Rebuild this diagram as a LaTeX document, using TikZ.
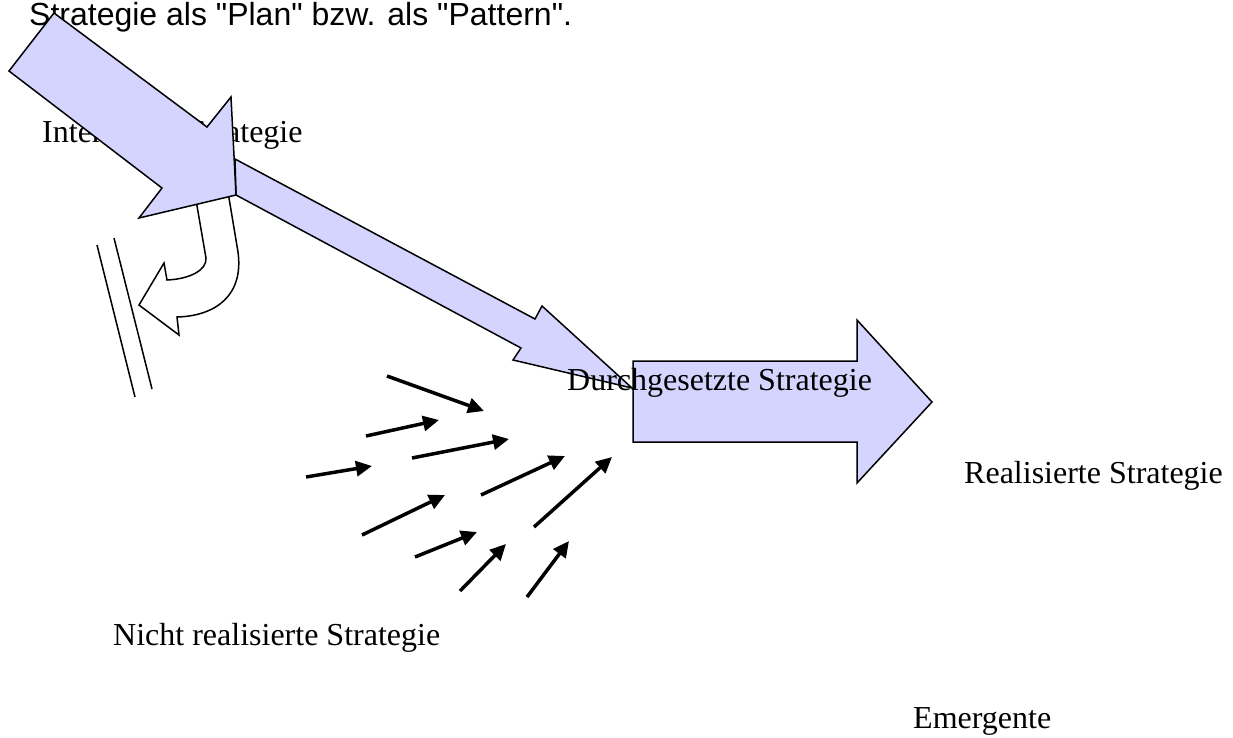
\documentclass[tikz,border=0pt]{standalone}
\usepackage{fontspec}
\setmainfont{Liberation Serif}
\newfontfamily\headfont[Ligatures=TeXOff]{Liberation Sans}
\usetikzlibrary{arrows.meta}
\definecolor{lavender}{RGB}{212,212,255}
\tikzset{
  lbl/.style={anchor=base west,inner sep=0pt,font=\fontsize{32}{38}\selectfont},
  blockarrow/.style={draw=black,fill=lavender,line width=1.5pt,line join=miter},
  bentarrow/.style={draw=black,fill=white,line width=1.5pt},
  emerg/.style={line width=3.5pt,-{Triangle[length=16pt,width=15pt]}},
}
\begin{document}
\begin{tikzpicture}[x=1pt,y=-1pt]
\useasboundingbox (0,0) rectangle (1233,737);
\node[lbl,font=\headfont\fontsize{32}{38}\selectfont] (T) at (29,25) {Strategie als "Plan" bzw. als "Pattern".};
\node[lbl] (IS) at (42,142) {Intendierte Strategie};
\path[bentarrow] (228,192) -- (238,252) .. controls (244,296) and (215,316) .. (177,317) -- (179,335) -- (139,305) -- (164,263) -- (167,280) .. controls (190,279) and (207,270) .. (206,258) -- (196,200) -- cycle;
\path[blockarrow] (235,159) -- (535,319) -- (542,306) -- (632,388) -- (513,360) -- (521,348) -- (236,195) -- cycle;
\path[blockarrow] (54,13) -- (207,127) -- (231,97) -- (236,195) -- (139,218) -- (162,188) -- (9,71) -- cycle;
\draw[line width=1.5pt] (97,245) -- (135,397);
\draw[line width=1.5pt] (114,238) -- (152,389);
\foreach \xa/\ya/\xb/\yb in {387/376/484/411, 366/436/439/420, 412/458/509/439, 306/477/372/466, 481/495/565/456, 362/535/445/495, 534/527/612/457, 415/557/477/532, 460/591/506/544, 527/597/569/541}
  \draw[emerg] (\xa,\ya) -- (\xb,\yb);
\path[blockarrow] (633,361) -- (857,361) -- (857,320) -- (932,402) -- (857,483) -- (857,442) -- (633,442) -- cycle;
\node[lbl] (DS) at (567,390) {Durchgesetzte Strategie};
\node[lbl] (RS) at (964,483) {Realisierte Strategie};
\node[lbl] (NRS) at (113,645) {Nicht realisierte Strategie};
\node[lbl] (EM) at (913,728) {Emergente};
\end{tikzpicture}
\end{document}
